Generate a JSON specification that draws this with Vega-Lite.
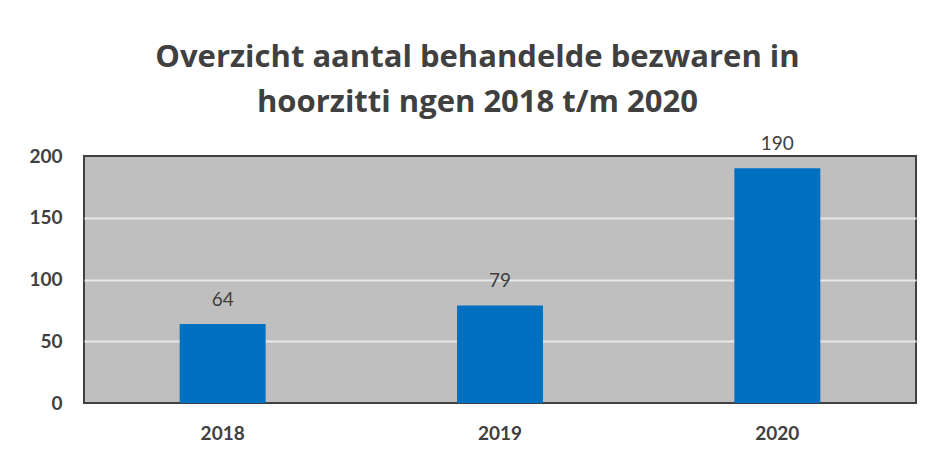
{
  "$schema": "https://vega.github.io/schema/vega-lite/v6.json",
  "width": 832,
  "height": 247,
  "padding": {"left": 28, "top": 42, "right": 11, "bottom": 10},
  "background": "white",
  "title": {
    "text": ["Overzicht aantal behandelde bezwaren in", "hoorzitti ngen 2018 t/m 2020"],
    "font": "Open Sans",
    "fontSize": 31,
    "fontWeight": "bold",
    "color": "#404040",
    "lineHeight": 45,
    "anchor": "middle",
    "frame": "bounds",
    "dx": 5,
    "offset": 16
  },
  "data": {
    "values": [
      {"jaar": "2018", "aantal": 64},
      {"jaar": "2019", "aantal": 79},
      {"jaar": "2020", "aantal": 190}
    ]
  },
  "encoding": {
    "x": {
      "field": "jaar",
      "type": "ordinal",
      "scale": {"paddingInner": 0.69, "paddingOuter": 0.345},
      "axis": {
        "title": null,
        "labelAngle": 0,
        "domain": false,
        "ticks": false,
        "labelPadding": 21,
        "labelFont": "Lato",
        "labelFontSize": 19,
        "labelFontWeight": "bold",
        "labelColor": "#404040"
      }
    },
    "y": {
      "field": "aantal",
      "type": "quantitative",
      "scale": {"domain": [0, 200]},
      "axis": {
        "title": null,
        "values": [0, 50, 100, 150, 200],
        "domain": false,
        "ticks": false,
        "grid": true,
        "gridColor": "#e8e8e8",
        "gridWidth": 2,
        "gridOpacity": {"condition": {"test": "datum.value === 0 || datum.value === 200", "value": 0}, "value": 1},
        "labelPadding": 22,
        "labelFont": "Lato",
        "labelFontSize": 19,
        "labelFontWeight": "bold",
        "labelColor": "#404040"
      }
    }
  },
  "layer": [
    {"mark": {"type": "bar", "color": "#0070c0"}},
    {
      "mark": {"type": "text", "dy": -18, "baseline": "alphabetic", "font": "Lato", "fontSize": 19, "color": "#404040"},
      "encoding": {"text": {"field": "aantal", "type": "quantitative"}}
    }
  ],
  "config": {
    "view": {"fill": "#bfbfbf", "stroke": "#404040", "strokeWidth": 2}
  }
}
